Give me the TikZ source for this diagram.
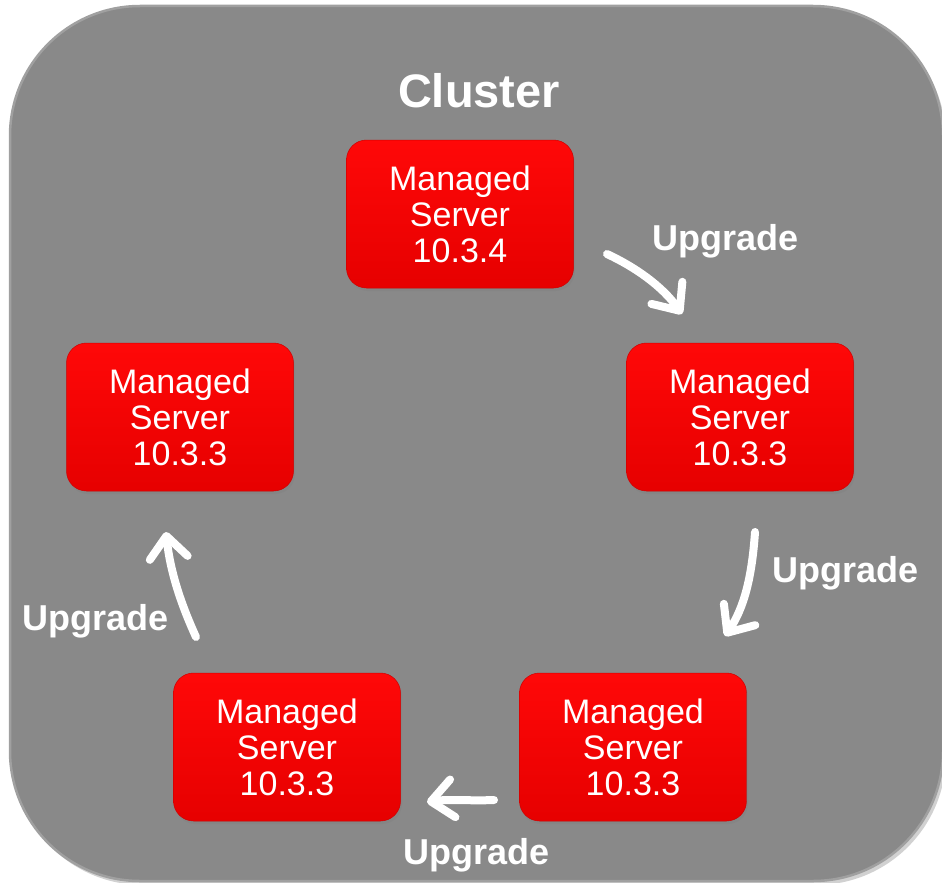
\documentclass[tikz,border=0pt]{standalone}
\usepackage{fontspec}
\setmainfont{Liberation Sans}
\usetikzlibrary{arrows.meta,shadows}
\definecolor{clustergray}{RGB}{137,137,137}
\definecolor{clusteredge}{RGB}{160,160,160}
\definecolor{srvtop}{RGB}{255,8,8}
\definecolor{srvbot}{RGB}{230,0,0}
\tikzset{
  server/.style={rounded corners=20pt, minimum width=227pt, minimum height=148pt,
    top color=srvtop, bottom color=srvbot, draw=srvbot!90!black, line width=0.5pt,
    drop shadow={shadow xshift=1.5pt, shadow yshift=-3pt, opacity=0.35},
    text=white, align=center, inner sep=0pt,
    font=\fontsize{34}{36}\selectfont},
  uplabel/.style={text=white, font=\bfseries\fontsize{36}{40}\selectfont, inner sep=0pt},
  flow/.style={white, line width=8pt, line cap=round,
    -{Straight Barb[length=22pt, width=38pt, round]}}
}
\begin{document}
\begin{tikzpicture}[x=1pt, y=-1pt]
  \useasboundingbox (0,0) rectangle (942,883);
  % cluster panel
  \fill[black, opacity=0.18, rounded corners=130pt] (13,10) rectangle (946,885);
  \path[fill=clustergray, draw=clusteredge, line width=2.5pt, rounded corners=130pt]
    (10,6) rectangle (943,881);
  \node[uplabel, font=\bfseries\fontsize{47}{50}\selectfont, anchor=base] (title) at (479,107) {Cluster};

  % managed servers
  \node[server] (s0) at (460,214) {Managed\\Server\\10.3.4};
  \node[server] (s1) at (740,417) {Managed\\Server\\10.3.3};
  \node[server] (s2) at (633,747) {Managed\\Server\\10.3.3};
  \node[server] (s3) at (287,747) {Managed\\Server\\10.3.3};
  \node[server] (s4) at (180,417) {Managed\\Server\\10.3.3};

  % arrow end points
  \coordinate (a1s) at (607,254);
  \coordinate (a1e) at (682,314);
  \coordinate (a2s) at (755,532);
  \coordinate (a2e) at (725,636);
  \coordinate (a3s) at (494,800);
  \coordinate (a3e) at (427,802);
  \coordinate (a4s) at (196,637);
  \coordinate (a4e) at (166,532);

  \draw[flow] (a1s) .. controls (635,267) and (662,286) .. (a1e);
  \draw[flow] (a2s) .. controls (752,577) and (744,608) .. (a2e);
  \draw[flow] (a3s) .. controls (472,801) and (448,799) .. (a3e);
  \draw[flow] (a4s) .. controls (180,602) and (170,570) .. (a4e);

  % labels
  \node[uplabel, anchor=base west] (u1) at (652,250) {Upgrade};
  \node[uplabel, anchor=base west] (u2) at (772,582) {Upgrade};
  \node[uplabel, anchor=base west] (u3) at (403,864) {Upgrade};
  \node[uplabel, anchor=base west] (u4) at (22,630) {Upgrade};
\end{tikzpicture}
\end{document}
